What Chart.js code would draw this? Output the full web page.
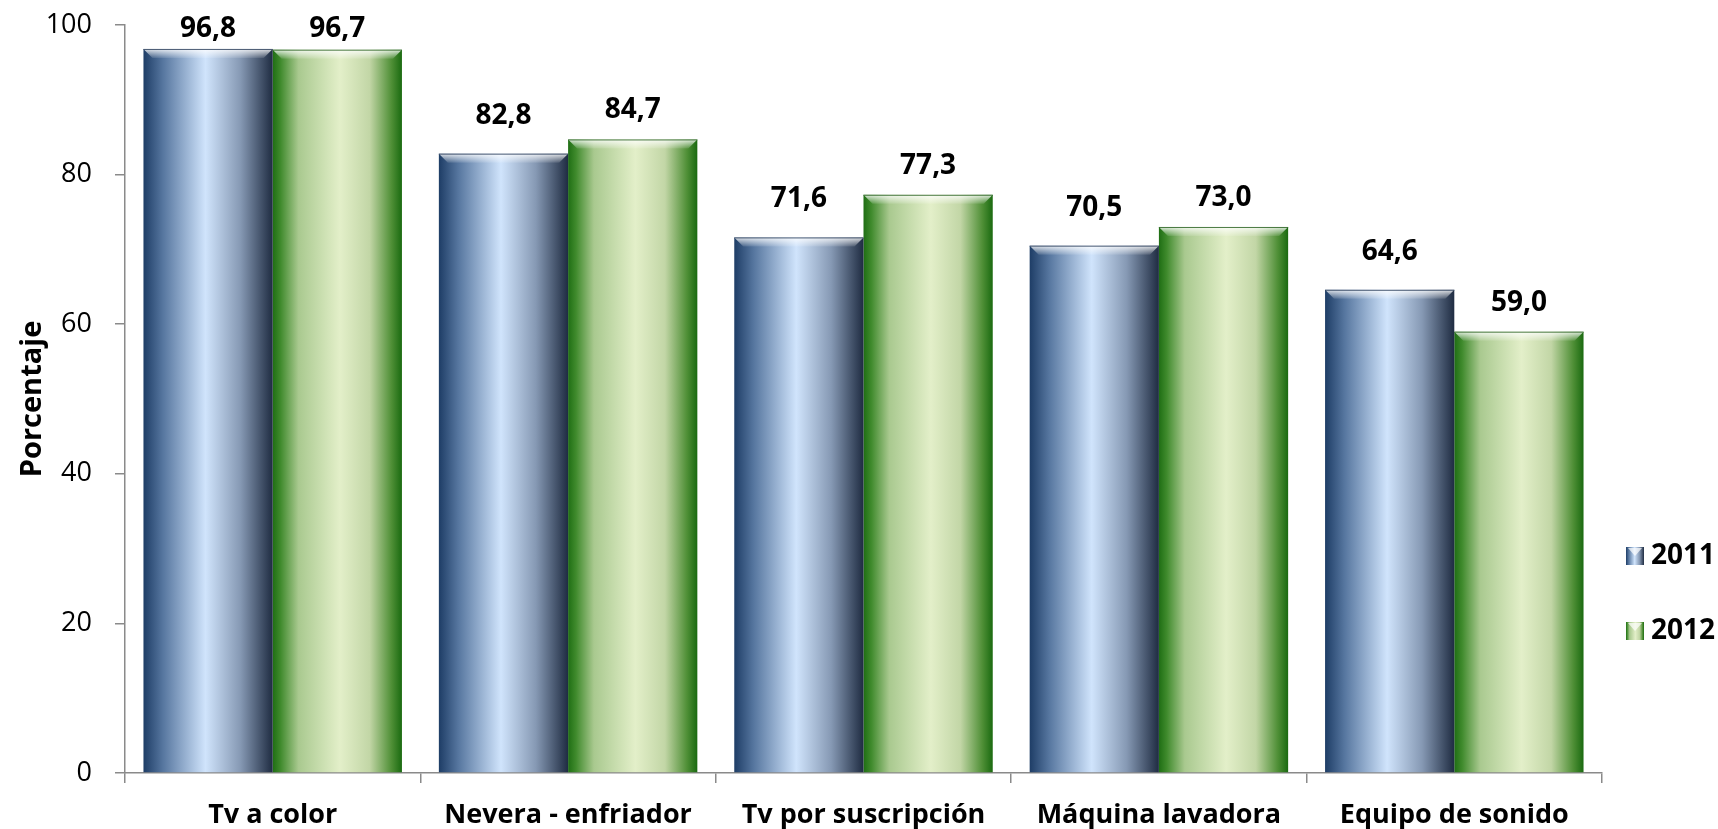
<!DOCTYPE html>
<html>
<head>
<meta charset="utf-8">
<script src="https://cdn.jsdelivr.net/npm/chart.js@4.4.4/dist/chart.umd.min.js"></script>
<style>
  html, body { margin: 0; padding: 0; background: #fff; }
  #wrap { width: 1718px; height: 829px; position: relative; }
</style>
</head>
<body>
<div id="wrap"><canvas id="chart"></canvas></div>
<script>
// Values.
const categories = ['Tv a color', 'Nevera - enfriador', 'Tv por suscripción', 'Máquina lavadora', 'Equipo de sonido'];
const seriesLabels = ['2011', '2012'];
const values2011 = [96.8, 82.8, 71.6, 70.5, 64.6];
const values2012 = [96.7, 84.7, 77.3, 73.0, 59.0];
const yTicks = [0, 20, 40, 60, 80, 100];

const FONT = '"Open Sans", Lato, sans-serif';
const AXIS_GRAY = '#8a8a8a';
const CAT_PCT = 0.875;

// horizontal "cylinder" shading, dark edges and a light centre
const BLUE_STOPS = [[0, '#1e3d66'], [0.15, '#56769f'], [0.48, '#d0e4fc'], [0.75, '#8699b4'], [1, '#1f2c42']];
const GREEN_STOPS = [[0, '#1f6e14'], [0.06, '#3f8a2c'], [0.2, '#a9c98f'], [0.52, '#e3efc9'], [0.75, '#c2d6a6'], [0.92, '#4f8f36'], [1, '#1a6a10']];

function barFill(stops) {
  return c => {
    const chart = c.chart;
    const xs = chart.scales.x;
    if (!xs || c.type !== 'data') return stops[2][1];
    const cat = xs.width / chart.data.labels.length;
    const group = cat * CAT_PCT;
    const slot = group / 2;
    const left = xs.getPixelForValue(c.dataIndex) - group / 2 + c.datasetIndex * slot;
    if (!Number.isFinite(left) || !Number.isFinite(slot) || slot <= 0) return stops[2][1];
    const g = chart.ctx.createLinearGradient(left, 0, left + slot, 0);
    stops.forEach(([o, col]) => g.addColorStop(o, col));
    return g;
  };
}

// top bevel highlight on every bar
const bevelPlugin = {
  id: 'bevel',
  afterDatasetsDraw(chart) {
    const ctx = chart.ctx;
    chart.data.datasets.forEach((ds, di) => {
      chart.getDatasetMeta(di).data.forEach(el => {
        const l = el.x - el.width / 2, r = el.x + el.width / 2, t = el.y, b = 9;
        ctx.save();
        const g = ctx.createLinearGradient(0, t, 0, t + b);
        g.addColorStop(0, 'rgba(255,255,255,0.85)');
        g.addColorStop(1, 'rgba(255,255,255,0.1)');
        ctx.fillStyle = g;
        ctx.beginPath();
        ctx.moveTo(l, t); ctx.lineTo(r, t); ctx.lineTo(r - b, t + b); ctx.lineTo(l + b, t + b);
        ctx.closePath();
        ctx.fill();
        ctx.strokeStyle = di === 0 ? 'rgba(30,50,80,0.8)' : 'rgba(30,90,20,0.8)';
        ctx.lineWidth = 1;
        ctx.beginPath();
        ctx.moveTo(l, t + 0.5); ctx.lineTo(r, t + 0.5);
        ctx.stroke();
        ctx.restore();
      });
    });
  }
};

// value labels above the bars, comma decimals
const LABEL_GAP = [30, 21];
const valueLabels = {
  id: 'valueLabels',
  afterDatasetsDraw(chart) {
    const ctx = chart.ctx;
    ctx.save();
    ctx.font = 'bold 28px ' + FONT;
    ctx.fillStyle = '#000';
    ctx.textAlign = 'center';
    ctx.textBaseline = 'alphabetic';
    chart.data.datasets.forEach((ds, di) => {
      chart.getDatasetMeta(di).data.forEach((el, i) => {
        const txt = ds.data[i].toFixed(1).replace('.', ',');
        const y = Math.max(el.y - LABEL_GAP[di], 37);
        ctx.fillText(txt, el.x, y);
      });
    });
    ctx.restore();
  }
};

// legend on the right, lower half
const sideLegend = {
  id: 'sideLegend',
  afterDraw(chart) {
    const ctx = chart.ctx;
    const x0 = 1626, ys = [547, 622], s = 18;
    ctx.save();
    chart.data.datasets.forEach((ds, di) => {
      const y = ys[di];
      const stops = di === 0 ? BLUE_STOPS : GREEN_STOPS;
      const g = ctx.createLinearGradient(x0, 0, x0 + s, 0);
      stops.forEach(([o, col]) => g.addColorStop(o, col));
      ctx.fillStyle = g;
      ctx.fillRect(x0, y, s, s);
      ctx.fillStyle = 'rgba(255,255,255,0.7)';
      ctx.beginPath();
      ctx.moveTo(x0 + 2, y + 1); ctx.lineTo(x0 + s - 2, y + 1); ctx.lineTo(x0 + s / 2, y + s / 2);
      ctx.closePath();
      ctx.fill();
      ctx.font = 'bold 28px ' + FONT;
      ctx.fillStyle = '#000';
      ctx.textAlign = 'left';
      ctx.textBaseline = 'middle';
      ctx.fillText(ds.label, 1651, y + s / 2);
    });
    ctx.restore();
  }
};

new Chart(document.getElementById('chart'), {
  type: 'bar',
  data: {
    labels: categories,
    datasets: [
      { label: seriesLabels[0], data: values2011, backgroundColor: barFill(BLUE_STOPS) },
      { label: seriesLabels[1], data: values2012, backgroundColor: barFill(GREEN_STOPS) }
    ]
  },
  options: {
    responsive: true,
    maintainAspectRatio: false,
    animation: false,
    datasets: { bar: { categoryPercentage: CAT_PCT, barPercentage: 1 } },
    layout: { padding: { top: 25, right: 116, left: 0, bottom: 0 } },
    plugins: { legend: { display: false }, tooltip: { enabled: false } },
    scales: {
      x: {
        afterFit: s => { s.height = 56; },
        grid: { display: true, drawOnChartArea: false, drawTicks: true, tickLength: 10, color: AXIS_GRAY, lineWidth: 1.5 },
        border: { color: AXIS_GRAY, width: 1.5 },
        ticks: { color: '#000', padding: 16, font: { family: FONT, size: 27, weight: 'bold' } }
      },
      y: {
        min: 0,
        max: 100,
        // fixed axis width; tick padding should not push the plot top down
        afterFit: s => { s.width = 125; s.paddingTop = 0; s.paddingBottom = 0; },
        afterBuildTicks: s => { s.ticks = yTicks.map(v => ({ value: v })); },
        grid: { display: true, drawOnChartArea: false, drawTicks: true, tickLength: 10, color: AXIS_GRAY, lineWidth: 1.5 },
        border: { color: AXIS_GRAY, width: 1.5 },
        ticks: { color: '#000', padding: 23, font: { family: FONT, size: 27 } },
        title: { display: true, text: 'Porcentaje', color: '#000', padding: { top: 15, bottom: 0 }, font: { family: FONT, size: 29, weight: 'bold' } }
      }
    }
  },
  plugins: [bevelPlugin, valueLabels, sideLegend]
});
</script>
</body>
</html>
